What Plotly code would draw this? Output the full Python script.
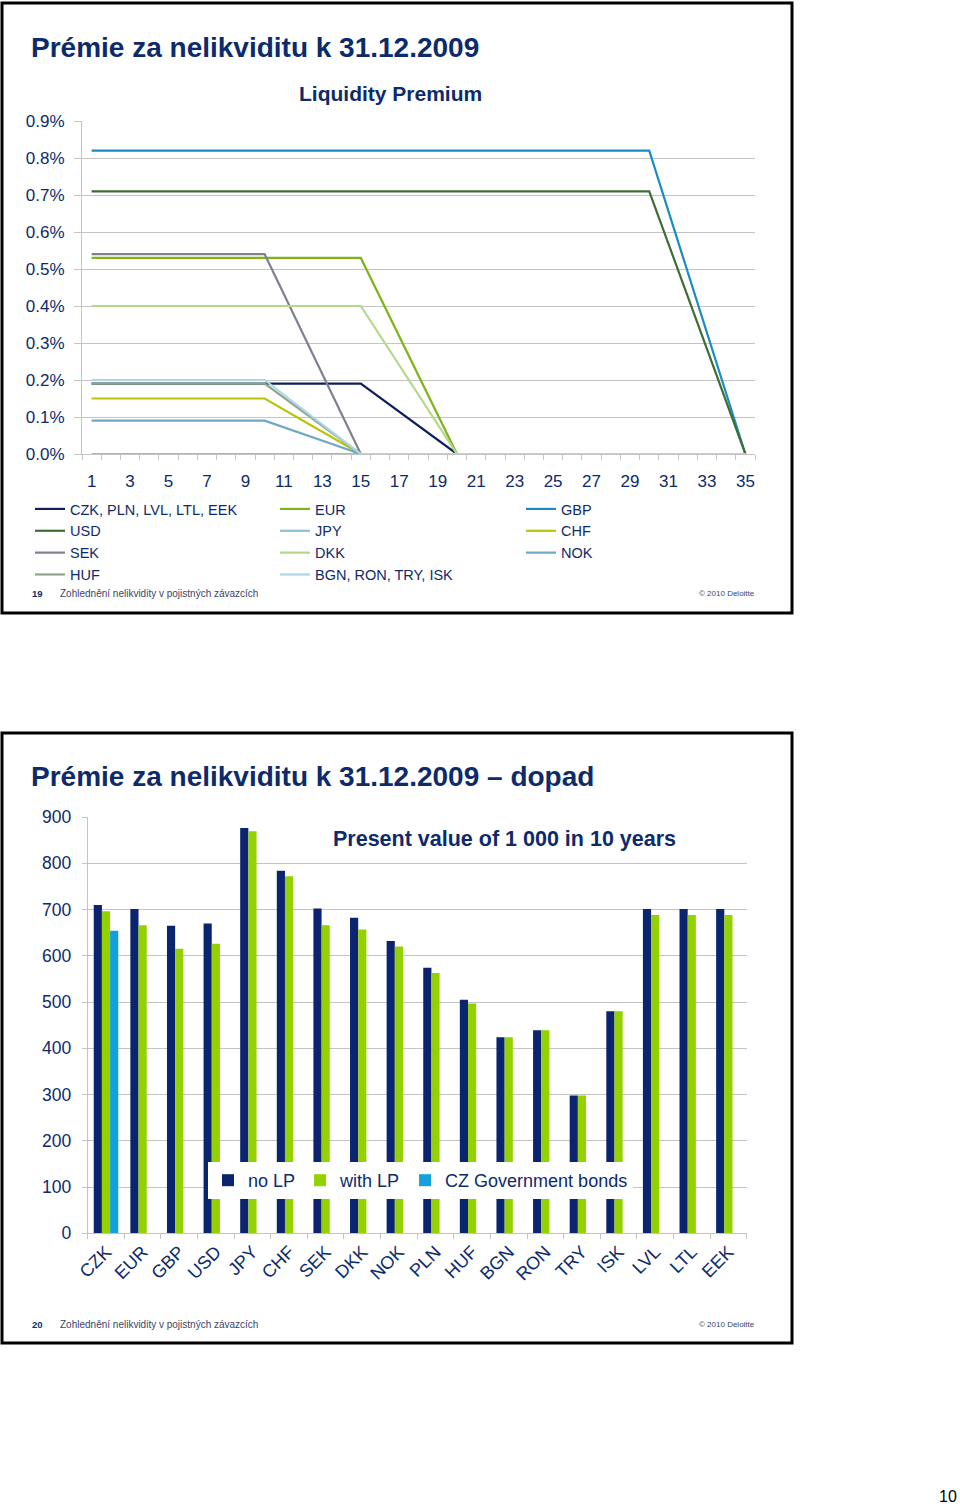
import plotly.graph_objects as go

W, H = 960, 1504
def px(x): return x / W
def py(y): return 1 - y / H

NAVY = "#0d2b6b"
GRID = "#c4c4c4"
FONT = "Liberation Sans, Arial, sans-serif"

# ---------------- Liquidity premium (in %) ----------------
LP_NAMES = ["CZK, PLN, LVL, LTL, EEK", "EUR", "GBP", "USD", "JPY", "CHF",
            "SEK", "DKK", "NOK", "HUF", "BGN, RON, TRY, ISK"]
CZK_X, CZK_Y = [1, 15, 20, 35], [0.19, 0.19, 0.0, 0.0]
EUR_X, EUR_Y = [1, 15, 20, 35], [0.53, 0.53, 0.0, 0.0]
GBP_X, GBP_Y = [1, 30, 35], [0.82, 0.82, 0.0]
USD_X, USD_Y = [1, 30, 35], [0.71, 0.71, 0.0]
JPY_X, JPY_Y = [1, 35], [0.0, 0.0]
CHF_X, CHF_Y = [1, 10, 15, 35], [0.15, 0.15, 0.0, 0.0]
SEK_X, SEK_Y = [1, 10, 15, 35], [0.54, 0.54, 0.0, 0.0]
DKK_X, DKK_Y = [1, 15, 20, 35], [0.40, 0.40, 0.0, 0.0]
NOK_X, NOK_Y = [1, 10, 15, 35], [0.09, 0.09, 0.0, 0.0]
HUF_X, HUF_Y = [1, 10, 15, 35], [0.19, 0.19, 0.0, 0.0]
BGN_X, BGN_Y = [1, 10, 15, 35], [0.20, 0.20, 0.0, 0.0]
LP_X = [CZK_X, EUR_X, GBP_X, USD_X, JPY_X, CHF_X, SEK_X, DKK_X, NOK_X, HUF_X, BGN_X]
LP_Y = [CZK_Y, EUR_Y, GBP_Y, USD_Y, JPY_Y, CHF_Y, SEK_Y, DKK_Y, NOK_Y, HUF_Y, BGN_Y]
LP_COLORS = ["#0f1f5c", "#7cb518", "#1a8bc4", "#3f6e34", "#8cc0d6", "#b7c50a",
             "#80808f", "#b2d98a", "#6fa8c5", "#8ea58e", "#add6e6"]
LP_LEGEND = ["legend", "legend2", "legend3", "legend", "legend2", "legend3",
             "legend", "legend2", "legend3", "legend", "legend2"]
LP_RANK = [1, 1, 1, 2, 2, 2, 3, 3, 3, 4, 4]
X_TICKS = list(range(1, 36, 2))
Y_TICKS = [0.0, 0.1, 0.2, 0.3, 0.4, 0.5, 0.6, 0.7, 0.8, 0.9]
Y_TICKTEXT = [f"{v:.1f}%" for v in Y_TICKS]

# ---------------- Present value of 1 000 in 10 years ----------------
CATEGORIES = ["CZK", "EUR", "GBP", "USD", "JPY", "CHF", "SEK", "DKK", "NOK",
              "PLN", "HUF", "BGN", "RON", "TRY", "ISK", "LVL", "LTL", "EEK"]
NO_LP = [710, 701, 665, 670, 876, 784, 702, 682, 632, 574, 505, 424, 439, 298, 480, 701, 701, 701]
WITH_LP = [696, 666, 615, 626, 869, 772, 666, 657, 620, 563, 497, 424, 439, 298, 480, 688, 688, 688]
CZ_GOV = [654] + [None] * 17
BAR_NAMES = ["no LP", "with LP", "CZ Government bonds"]
BAR_COLORS = ["#0b2470", "#93d100", "#14a0da"]

fig = go.Figure()

for name, xs, ys, col, lg, rk in zip(LP_NAMES, LP_X, LP_Y, LP_COLORS, LP_LEGEND, LP_RANK):
    fig.add_trace(go.Scatter(x=xs, y=ys, mode="lines", name=name,
                             line=dict(color=col, width=2.2),
                             legend=lg, legendrank=rk, xaxis="x", yaxis="y"))

for name, vals, col in zip(BAR_NAMES, [NO_LP, WITH_LP, CZ_GOV], BAR_COLORS):
    fig.add_trace(go.Bar(x=CATEGORIES, y=vals, name=name, marker=dict(color=col, line=dict(width=0)),
                         legend="legend4", xaxis="x2", yaxis="y2"))

legend_common = dict(font=dict(family=FONT, size=14.5, color=NAVY), bgcolor="rgba(0,0,0,0)",
                     orientation="v", xanchor="left", yanchor="top", traceorder="normal",
                     itemwidth=30, tracegroupgap=0)

fig.update_layout(
    width=W, height=H, margin=dict(l=0, r=0, t=0, b=0, pad=0, autoexpand=False),
    paper_bgcolor="white", plot_bgcolor="white",
    font=dict(family=FONT, color=NAVY),
    showlegend=True,
    barmode="group", bargap=0.33, bargroupgap=0,
    xaxis=dict(domain=[px(82), px(755)], range=[0.5, 35.5], tickvals=X_TICKS,
               showgrid=False, zeroline=False, showline=True, linecolor=GRID, linewidth=1,
               ticks="", ticklabelstandoff=12, automargin=False,
               minor=dict(tick0=0.5, dtick=1, ticks="outside", ticklen=5, tickcolor=GRID, showgrid=False),
               tickfont=dict(family=FONT, size=17, color=NAVY), anchor="y"),
    yaxis=dict(domain=[py(454), py(121)], range=[0, 0.9], tickvals=Y_TICKS, ticktext=Y_TICKTEXT,
               showgrid=True, gridcolor=GRID, gridwidth=1, zeroline=False,
               showline=True, linecolor=GRID, linewidth=1, automargin=False,
               ticks="outside", ticklen=7, tickcolor=GRID, ticklabelstandoff=6,
               tickfont=dict(family=FONT, size=17, color=NAVY), anchor="x"),
    xaxis2=dict(domain=[px(87.7), px(746.7)], type="category", tickson="boundaries",
                showgrid=False, zeroline=False, showline=True, linecolor=GRID, linewidth=1,
                ticks="outside", ticklen=5, tickcolor=GRID, tickangle=-45, automargin=False,
                tickfont=dict(family=FONT, size=18, color=NAVY), anchor="y2"),
    yaxis2=dict(domain=[py(1233.3), py(817)], range=[0, 900], dtick=100,
                showgrid=True, gridcolor=GRID, gridwidth=1, zeroline=False,
                showline=True, linecolor=GRID, linewidth=1, automargin=False,
                ticks="outside", ticklen=5, tickcolor=GRID, ticklabelstandoff=7,
                tickfont=dict(family=FONT, size=17.5, color=NAVY), anchor="x2"),
    legend=dict(x=px(30), y=py(493), **legend_common),
    legend2=dict(x=px(275), y=py(493), **legend_common),
    legend3=dict(x=px(521), y=py(493), **legend_common),
    legend4=dict(x=px(208), y=py(1162), xanchor="left", yanchor="top", orientation="h",
                 bgcolor="white", font=dict(family=FONT, size=18, color=NAVY),
                 traceorder="normal", itemwidth=30),
)

shapes = []
for y0, y1 in [(3, 613), (733, 1343)]:
    shapes.append(dict(type="rect", xref="paper", yref="paper", x0=px(2), x1=px(792),
                       y0=py(y1), y1=py(y0), line=dict(color="black", width=3),
                       fillcolor="rgba(0,0,0,0)", layer="above"))
fig.update_layout(shapes=shapes)

ann = [
    dict(text="<b>Prémie za nelikviditu k 31.12.2009</b>", x=px(29), y=py(47), xanchor="left",
         yanchor="middle", font=dict(family=FONT, size=28, color=NAVY)),
    dict(text="<b>Liquidity Premium</b>", x=px(390), y=py(93), xanchor="center", yanchor="middle",
         font=dict(family=FONT, size=21, color=NAVY)),
    dict(text="<b>19</b>", x=px(30), y=py(594), xanchor="left", yanchor="middle",
         font=dict(family=FONT, size=9.5, color=NAVY)),
    dict(text="Zohlednění nelikvidity v pojistných závazcích", x=px(58), y=py(594), xanchor="left",
         yanchor="middle", font=dict(family=FONT, size=10, color="#3b4566")),
    dict(text="© 2010 Deloitte", x=px(757), y=py(594), xanchor="right", yanchor="middle",
         font=dict(family=FONT, size=8, color="#3b4566")),
    dict(text="<b>Prémie za nelikviditu k 31.12.2009 – dopad</b>", x=px(29), y=py(776),
         xanchor="left", yanchor="middle", font=dict(family=FONT, size=28, color=NAVY)),
    dict(text="<b>Present value of 1 000 in 10 years</b>", x=px(504), y=py(839), xanchor="center",
         yanchor="middle", font=dict(family=FONT, size=21.5, color=NAVY)),
    dict(text="<b>20</b>", x=px(30), y=py(1324), xanchor="left", yanchor="middle",
         font=dict(family=FONT, size=9.5, color=NAVY)),
    dict(text="Zohlednění nelikvidity v pojistných závazcích", x=px(58), y=py(1324), xanchor="left",
         yanchor="middle", font=dict(family=FONT, size=10, color="#3b4566")),
    dict(text="© 2010 Deloitte", x=px(757), y=py(1324), xanchor="right", yanchor="middle",
         font=dict(family=FONT, size=8, color="#3b4566")),
    dict(text="10", x=px(959), y=py(1496), xanchor="right", yanchor="middle",
         font=dict(family=FONT, size=16, color="black")),
]
for a in ann:
    a.update(xref="paper", yref="paper", showarrow=False)
fig.update_layout(annotations=ann)

fig.write_html("out.html", config={"displayModeBar": False},
               post_script="document.body.style.margin='0';")
